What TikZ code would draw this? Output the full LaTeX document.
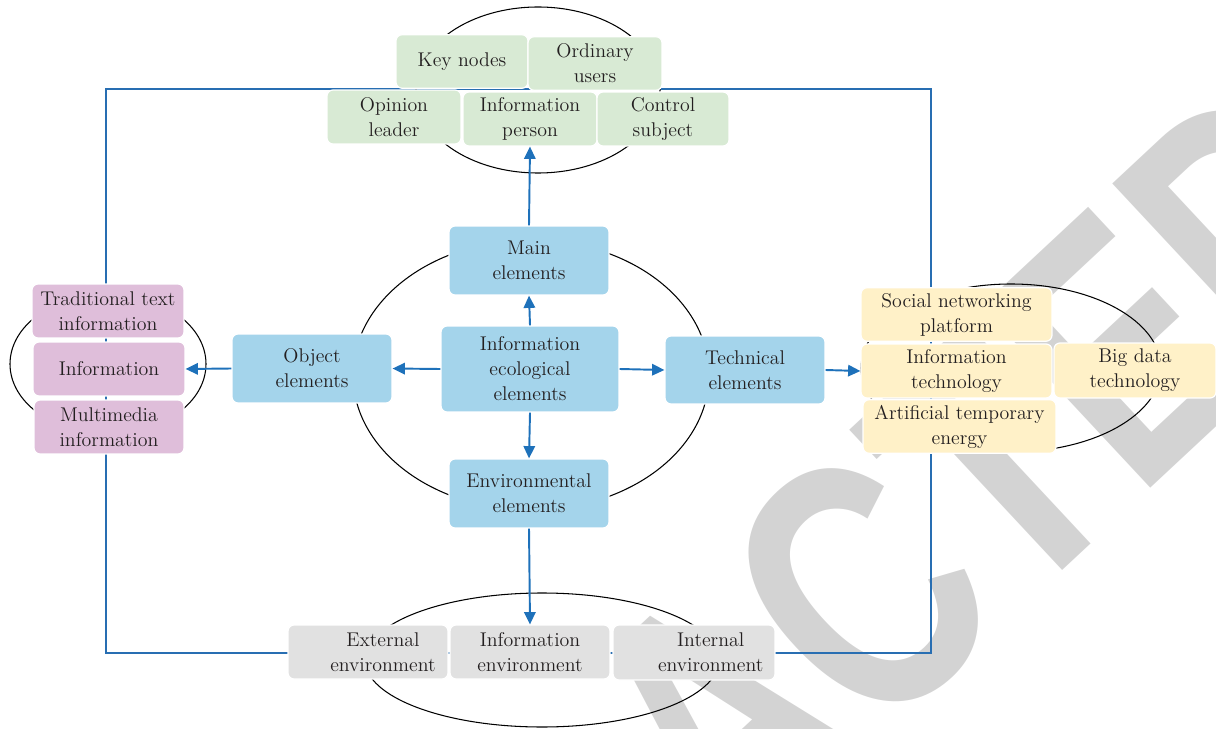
\documentclass[tikz,border=0pt]{standalone}
\usepackage{fontspec}
\newfontfamily\wmfont{Liberation Sans}
\usetikzlibrary{arrows.meta,positioning}

\definecolor{boxblue}{RGB}{164,212,235}
\definecolor{boxgreen}{RGB}{216,234,212}
\definecolor{boxyellow}{RGB}{255,241,200}
\definecolor{boxpurple}{RGB}{223,190,218}
\definecolor{boxgray}{RGB}{225,225,225}
\definecolor{arrblue}{RGB}{30,113,186}
\definecolor{frameblue}{RGB}{40,110,178}
\definecolor{txt}{RGB}{35,31,32}
\definecolor{wmgray}{RGB}{211,211,211}

\tikzset{
  ebox/.style={rounded corners=0.12cm, draw=white, line width=0.7pt, inner sep=0pt,
    align=center, text=txt, font=\fontsize{11.3}{14.2}\selectfont},
  bluebox/.style={ebox, fill=boxblue, minimum width=3.2cm, minimum height=1.38cm},
  greenbox/.style={ebox, fill=boxgreen, minimum width=2.66cm, minimum height=1.07cm},
  purplebox/.style={ebox, fill=boxpurple, minimum width=3.04cm, minimum height=1.08cm},
  yellowbox/.style={ebox, fill=boxyellow, minimum width=3.82cm, minimum height=1.07cm},
  graybox/.style={ebox, fill=boxgray, minimum width=3.2cm, minimum height=1.08cm},
  ring/.style={draw=black, line width=0.6pt},
  arr/.style={draw=arrblue, line width=1.1pt, -{Triangle[length=7pt,width=6.5pt]}}
}

\begin{document}
\begin{tikzpicture}[x=0.02cm,y=-0.02cm]
\useasboundingbox (0,0) rectangle (1216,729);

% watermark behind everything
\begin{scope}
\clip (0,0) rectangle (1216,729);
\node[rotate=43, xscale=0.75, inner sep=0pt, text=wmgray, font=\wmfont\bfseries\fontsize{205}{205}\selectfont] (wmark) at (718,722) {RETRACTED};
\end{scope}

% outer frame and the rings
\draw[frameblue, line width=0.7pt] (106,89) rectangle (931,653);
\draw[ring] (538,90) ellipse [x radius=122, y radius=83];
\draw[ring] (531,375) ellipse [x radius=178, y radius=135];
\draw[ring] (108,364) ellipse [x radius=98, y radius=70];
\draw[ring] (1011,368) ellipse [x radius=150, y radius=84];
\draw[ring] (542,660) ellipse [x radius=177, y radius=67];

% core elements
\node[bluebox, minimum width=3.56cm, minimum height=1.72cm] (core) at (530,369) {Information\\ecological\\elements};
\node[bluebox] (main) at (529,260.5) {Main\\elements};
\node[bluebox] (env) at (529,493.5) {Environmental\\elements};
\node[bluebox] (obj) at (312,368.5) {Object\\elements};
\node[bluebox, minimum height=1.36cm] (tech) at (745,370) {Technical\\elements};

% main elements
\node[greenbox, minimum width=2.64cm] (keyn) at (462,61.5) {Key nodes};
\node[greenbox, minimum width=2.68cm] (ordin) at (595,63.5) {Ordinary\\users};
\node[greenbox, minimum width=2.68cm, minimum height=1.08cm] (opin) at (394,117) {Opinion\\leader};
\node[greenbox, minimum width=2.68cm, minimum height=1.08cm] (infop) at (530,119) {Information\\person};
\node[greenbox, minimum width=2.64cm, minimum height=1.08cm] (ctrl) at (663,119) {Control\\subject};

% object elements
\node[purplebox] (trad) at (108,311) {Traditional text\\information};
\node[purplebox] (info) at (109,369) {Information};
\node[purplebox, minimum width=3.0cm] (multi) at (109,427) {Multimedia\\information};

% technical elements
\node[yellowbox] (social) at (956.5,314.5) {Social networking\\platform};
\node[yellowbox, minimum height=1.08cm] (itech) at (956.5,371) {Information\\technology};
\node[yellowbox, minimum width=3.86cm] (artif) at (959.5,426.5) {Artificial temporary\\energy};
\node[yellowbox, minimum width=3.24cm, minimum height=1.1cm] (bigd) at (1135,370.5) {Big data\\technology};

% environmental elements
\node[graybox] (extern) at (368,652) {\hspace*{17pt}External\\\hspace*{17pt}environment};
\node[graybox] (infoenv) at (530,652) {Information\\environment};
\node[graybox, minimum width=3.24cm, minimum height=1.1cm] (intern) at (694,652.5) {\hspace*{19pt}Internal\\\hspace*{19pt}environment};

% arrows
\draw[arr] (core.north) -- (main.south);
\draw[arr] (core.south) -- (env.north);
\draw[arr] (core.west) -- (obj.east);
\draw[arr] (core.east) -- (tech.west);
\draw[arr] (main.north) -- (infop.south);
\draw[arr] (env.south) -- (infoenv.north);
\draw[arr] (obj.west) -- (info.east);
\draw[arr] (tech.east) -- (itech.west);
\end{tikzpicture}
\end{document}
